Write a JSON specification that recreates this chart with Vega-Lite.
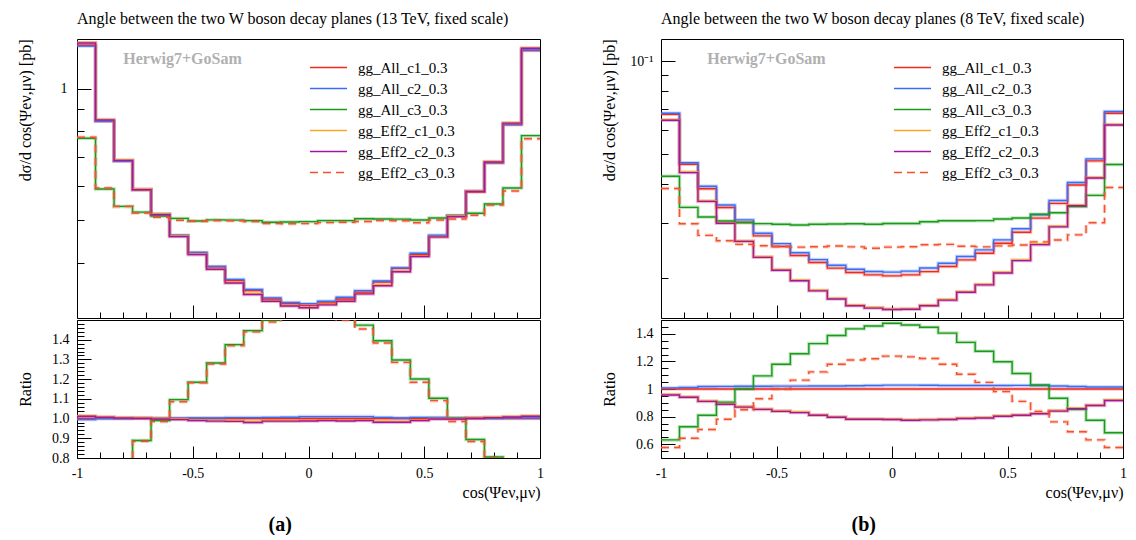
{
"$schema":"https://vega.github.io/schema/vega-lite/v6.json",
"padding":{"left":16,"top":10,"right":5,"bottom":0},
"datasets":{
"a":[
{"s":"gg_All_c1_0.3","x":-1,"y":1.26,"r":1},{"s":"gg_All_c1_0.3","x":-0.92,"y":0.843,"r":1},{"s":"gg_All_c1_0.3","x":-0.84,"y":0.684,"r":1},{"s":"gg_All_c1_0.3","x":-0.76,"y":0.587,"r":1},{"s":"gg_All_c1_0.3","x":-0.68,"y":0.516,"r":1},{"s":"gg_All_c1_0.3","x":-0.6,"y":0.461,"r":1},{"s":"gg_All_c1_0.3","x":-0.52,"y":0.421,"r":1},{"s":"gg_All_c1_0.3","x":-0.44,"y":0.391,"r":1},{"s":"gg_All_c1_0.3","x":-0.36,"y":0.364,"r":1},{"s":"gg_All_c1_0.3","x":-0.28,"y":0.345,"r":1},{"s":"gg_All_c1_0.3","x":-0.2,"y":0.33,"r":1},{"s":"gg_All_c1_0.3","x":-0.12,"y":0.322,"r":1},{"s":"gg_All_c1_0.3","x":-0.04,"y":0.319,"r":1},{"s":"gg_All_c1_0.3","x":0.04,"y":0.323,"r":1},{"s":"gg_All_c1_0.3","x":0.12,"y":0.33,"r":1},{"s":"gg_All_c1_0.3","x":0.2,"y":0.342,"r":1},{"s":"gg_All_c1_0.3","x":0.28,"y":0.361,"r":1},{"s":"gg_All_c1_0.3","x":0.36,"y":0.388,"r":1},{"s":"gg_All_c1_0.3","x":0.44,"y":0.417,"r":1},{"s":"gg_All_c1_0.3","x":0.52,"y":0.459,"r":1},{"s":"gg_All_c1_0.3","x":0.6,"y":0.511,"r":1},{"s":"gg_All_c1_0.3","x":0.68,"y":0.581,"r":1},{"s":"gg_All_c1_0.3","x":0.76,"y":0.677,"r":1},{"s":"gg_All_c1_0.3","x":0.84,"y":0.828,"r":1},{"s":"gg_All_c1_0.3","x":0.92,"y":1.225,"r":1},{"s":"gg_All_c1_0.3","x":1,"y":1.225,"r":1},
{"s":"gg_All_c2_0.3","x":-1,"y":1.254,"r":0.995},{"s":"gg_All_c2_0.3","x":-0.92,"y":0.843,"r":1.0},{"s":"gg_All_c2_0.3","x":-0.84,"y":0.684,"r":1.0},{"s":"gg_All_c2_0.3","x":-0.76,"y":0.588,"r":1.002},{"s":"gg_All_c2_0.3","x":-0.68,"y":0.517,"r":1.002},{"s":"gg_All_c2_0.3","x":-0.6,"y":0.462,"r":1.002},{"s":"gg_All_c2_0.3","x":-0.52,"y":0.422,"r":1.003},{"s":"gg_All_c2_0.3","x":-0.44,"y":0.392,"r":1.003},{"s":"gg_All_c2_0.3","x":-0.36,"y":0.366,"r":1.005},{"s":"gg_All_c2_0.3","x":-0.28,"y":0.347,"r":1.005},{"s":"gg_All_c2_0.3","x":-0.2,"y":0.332,"r":1.006},{"s":"gg_All_c2_0.3","x":-0.12,"y":0.324,"r":1.007},{"s":"gg_All_c2_0.3","x":-0.04,"y":0.322,"r":1.01},{"s":"gg_All_c2_0.3","x":0.04,"y":0.326,"r":1.01},{"s":"gg_All_c2_0.3","x":0.12,"y":0.333,"r":1.01},{"s":"gg_All_c2_0.3","x":0.2,"y":0.345,"r":1.01},{"s":"gg_All_c2_0.3","x":0.28,"y":0.363,"r":1.006},{"s":"gg_All_c2_0.3","x":0.36,"y":0.389,"r":1.003},{"s":"gg_All_c2_0.3","x":0.44,"y":0.42,"r":1.006},{"s":"gg_All_c2_0.3","x":0.52,"y":0.462,"r":1.006},{"s":"gg_All_c2_0.3","x":0.6,"y":0.513,"r":1.003},{"s":"gg_All_c2_0.3","x":0.68,"y":0.583,"r":1.003},{"s":"gg_All_c2_0.3","x":0.76,"y":0.678,"r":1.002},{"s":"gg_All_c2_0.3","x":0.84,"y":0.83,"r":1.003},{"s":"gg_All_c2_0.3","x":0.92,"y":1.229,"r":1.003},{"s":"gg_All_c2_0.3","x":1,"y":1.229,"r":1.003},
{"s":"gg_All_c3_0.3","x":-1,"y":0.771,"r":0.612},{"s":"gg_All_c3_0.3","x":-0.92,"y":0.59,"r":0.7},{"s":"gg_All_c3_0.3","x":-0.84,"y":0.538,"r":0.787},{"s":"gg_All_c3_0.3","x":-0.76,"y":0.522,"r":0.889},{"s":"gg_All_c3_0.3","x":-0.68,"y":0.511,"r":0.99},{"s":"gg_All_c3_0.3","x":-0.6,"y":0.505,"r":1.096},{"s":"gg_All_c3_0.3","x":-0.52,"y":0.498,"r":1.184},{"s":"gg_All_c3_0.3","x":-0.44,"y":0.501,"r":1.282},{"s":"gg_All_c3_0.3","x":-0.36,"y":0.5005,"r":1.375},{"s":"gg_All_c3_0.3","x":-0.28,"y":0.499,"r":1.446},{"s":"gg_All_c3_0.3","x":-0.2,"y":0.495,"r":1.5},{"s":"gg_All_c3_0.3","x":-0.12,"y":0.4956,"r":1.539},{"s":"gg_All_c3_0.3","x":-0.04,"y":0.4964,"r":1.556},{"s":"gg_All_c3_0.3","x":0.04,"y":0.499,"r":1.545},{"s":"gg_All_c3_0.3","x":0.12,"y":0.499,"r":1.512},{"s":"gg_All_c3_0.3","x":0.2,"y":0.504,"r":1.474},{"s":"gg_All_c3_0.3","x":0.28,"y":0.5036,"r":1.395},{"s":"gg_All_c3_0.3","x":0.36,"y":0.503,"r":1.297},{"s":"gg_All_c3_0.3","x":0.44,"y":0.5008,"r":1.201},{"s":"gg_All_c3_0.3","x":0.52,"y":0.506,"r":1.103},{"s":"gg_All_c3_0.3","x":0.6,"y":0.512,"r":1.002},{"s":"gg_All_c3_0.3","x":0.68,"y":0.519,"r":0.894},{"s":"gg_All_c3_0.3","x":0.76,"y":0.545,"r":0.805},{"s":"gg_All_c3_0.3","x":0.84,"y":0.593,"r":0.716},{"s":"gg_All_c3_0.3","x":0.92,"y":0.7816,"r":0.638},{"s":"gg_All_c3_0.3","x":1,"y":0.7816,"r":0.638},
{"s":"gg_Eff2_c1_0.3","x":-1,"y":1.278,"r":1.014},{"s":"gg_Eff2_c1_0.3","x":-0.92,"y":0.851,"r":1.01},{"s":"gg_Eff2_c1_0.3","x":-0.84,"y":0.688,"r":1.006},{"s":"gg_Eff2_c1_0.3","x":-0.76,"y":0.59,"r":1.005},{"s":"gg_Eff2_c1_0.3","x":-0.68,"y":0.517,"r":1.002},{"s":"gg_Eff2_c1_0.3","x":-0.6,"y":0.461,"r":0.999},{"s":"gg_Eff2_c1_0.3","x":-0.52,"y":0.418,"r":0.994},{"s":"gg_Eff2_c1_0.3","x":-0.44,"y":0.387,"r":0.991},{"s":"gg_Eff2_c1_0.3","x":-0.36,"y":0.36,"r":0.99},{"s":"gg_Eff2_c1_0.3","x":-0.28,"y":0.34,"r":0.985},{"s":"gg_Eff2_c1_0.3","x":-0.2,"y":0.327,"r":0.99},{"s":"gg_Eff2_c1_0.3","x":-0.12,"y":0.319,"r":0.99},{"s":"gg_Eff2_c1_0.3","x":-0.04,"y":0.316,"r":0.991},{"s":"gg_Eff2_c1_0.3","x":0.04,"y":0.321,"r":0.993},{"s":"gg_Eff2_c1_0.3","x":0.12,"y":0.327,"r":0.991},{"s":"gg_Eff2_c1_0.3","x":0.2,"y":0.34,"r":0.993},{"s":"gg_Eff2_c1_0.3","x":0.28,"y":0.356,"r":0.985},{"s":"gg_Eff2_c1_0.3","x":0.36,"y":0.382,"r":0.985},{"s":"gg_Eff2_c1_0.3","x":0.44,"y":0.414,"r":0.993},{"s":"gg_Eff2_c1_0.3","x":0.52,"y":0.459,"r":1.001},{"s":"gg_Eff2_c1_0.3","x":0.6,"y":0.512,"r":1.001},{"s":"gg_Eff2_c1_0.3","x":0.68,"y":0.584,"r":1.005},{"s":"gg_Eff2_c1_0.3","x":0.76,"y":0.682,"r":1.008},{"s":"gg_Eff2_c1_0.3","x":0.84,"y":0.837,"r":1.011},{"s":"gg_Eff2_c1_0.3","x":0.92,"y":1.242,"r":1.014},{"s":"gg_Eff2_c1_0.3","x":1,"y":1.242,"r":1.014},
{"s":"gg_Eff2_c2_0.3","x":-1,"y":1.275,"r":1.012},{"s":"gg_Eff2_c2_0.3","x":-0.92,"y":0.849,"r":1.007},{"s":"gg_Eff2_c2_0.3","x":-0.84,"y":0.686,"r":1.003},{"s":"gg_Eff2_c2_0.3","x":-0.76,"y":0.588,"r":1.002},{"s":"gg_Eff2_c2_0.3","x":-0.68,"y":0.515,"r":0.998},{"s":"gg_Eff2_c2_0.3","x":-0.6,"y":0.459,"r":0.995},{"s":"gg_Eff2_c2_0.3","x":-0.52,"y":0.417,"r":0.99},{"s":"gg_Eff2_c2_0.3","x":-0.44,"y":0.386,"r":0.987},{"s":"gg_Eff2_c2_0.3","x":-0.36,"y":0.359,"r":0.986},{"s":"gg_Eff2_c2_0.3","x":-0.28,"y":0.338,"r":0.98},{"s":"gg_Eff2_c2_0.3","x":-0.2,"y":0.326,"r":0.987},{"s":"gg_Eff2_c2_0.3","x":-0.12,"y":0.318,"r":0.987},{"s":"gg_Eff2_c2_0.3","x":-0.04,"y":0.315,"r":0.988},{"s":"gg_Eff2_c2_0.3","x":0.04,"y":0.32,"r":0.99},{"s":"gg_Eff2_c2_0.3","x":0.12,"y":0.326,"r":0.988},{"s":"gg_Eff2_c2_0.3","x":0.2,"y":0.339,"r":0.99},{"s":"gg_Eff2_c2_0.3","x":0.28,"y":0.354,"r":0.981},{"s":"gg_Eff2_c2_0.3","x":0.36,"y":0.381,"r":0.981},{"s":"gg_Eff2_c2_0.3","x":0.44,"y":0.413,"r":0.99},{"s":"gg_Eff2_c2_0.3","x":0.52,"y":0.458,"r":0.998},{"s":"gg_Eff2_c2_0.3","x":0.6,"y":0.51,"r":0.998},{"s":"gg_Eff2_c2_0.3","x":0.68,"y":0.582,"r":1.002},{"s":"gg_Eff2_c2_0.3","x":0.76,"y":0.68,"r":1.005},{"s":"gg_Eff2_c2_0.3","x":0.84,"y":0.835,"r":1.008},{"s":"gg_Eff2_c2_0.3","x":0.92,"y":1.24,"r":1.012},{"s":"gg_Eff2_c2_0.3","x":1,"y":1.24,"r":1.012},
{"s":"gg_Eff2_c3_0.3","x":-1,"y":0.775,"r":0.615},{"s":"gg_Eff2_c3_0.3","x":-0.92,"y":0.593,"r":0.703},{"s":"gg_Eff2_c3_0.3","x":-0.84,"y":0.538,"r":0.787},{"s":"gg_Eff2_c3_0.3","x":-0.76,"y":0.5195,"r":0.885},{"s":"gg_Eff2_c3_0.3","x":-0.68,"y":0.508,"r":0.985},{"s":"gg_Eff2_c3_0.3","x":-0.6,"y":0.5,"r":1.085},{"s":"gg_Eff2_c3_0.3","x":-0.52,"y":0.4976,"r":1.182},{"s":"gg_Eff2_c3_0.3","x":-0.44,"y":0.4993,"r":1.277},{"s":"gg_Eff2_c3_0.3","x":-0.36,"y":0.4987,"r":1.37},{"s":"gg_Eff2_c3_0.3","x":-0.28,"y":0.4968,"r":1.44},{"s":"gg_Eff2_c3_0.3","x":-0.2,"y":0.4917,"r":1.49},{"s":"gg_Eff2_c3_0.3","x":-0.12,"y":0.491,"r":1.525},{"s":"gg_Eff2_c3_0.3","x":-0.04,"y":0.4913,"r":1.54},{"s":"gg_Eff2_c3_0.3","x":0.04,"y":0.494,"r":1.53},{"s":"gg_Eff2_c3_0.3","x":0.12,"y":0.495,"r":1.5},{"s":"gg_Eff2_c3_0.3","x":0.2,"y":0.497,"r":1.454},{"s":"gg_Eff2_c3_0.3","x":0.28,"y":0.4993,"r":1.383},{"s":"gg_Eff2_c3_0.3","x":0.36,"y":0.4986,"r":1.285},{"s":"gg_Eff2_c3_0.3","x":0.44,"y":0.4937,"r":1.184},{"s":"gg_Eff2_c3_0.3","x":0.52,"y":0.5008,"r":1.091},{"s":"gg_Eff2_c3_0.3","x":0.6,"y":0.5033,"r":0.985},{"s":"gg_Eff2_c3_0.3","x":0.68,"y":0.5136,"r":0.884},{"s":"gg_Eff2_c3_0.3","x":0.76,"y":0.5416,"r":0.8},{"s":"gg_Eff2_c3_0.3","x":0.84,"y":0.5837,"r":0.705},{"s":"gg_Eff2_c3_0.3","x":0.92,"y":0.769,"r":0.628},{"s":"gg_Eff2_c3_0.3","x":1,"y":0.769,"r":0.628}
],
"b":[
{"s":"gg_All_c1_0.3","x":-1,"y":0.0673,"r":1},{"s":"gg_All_c1_0.3","x":-0.92,"y":0.0464,"r":1},{"s":"gg_All_c1_0.3","x":-0.84,"y":0.0387,"r":1},{"s":"gg_All_c1_0.3","x":-0.76,"y":0.03365,"r":1},{"s":"gg_All_c1_0.3","x":-0.68,"y":0.0301,"r":1},{"s":"gg_All_c1_0.3","x":-0.6,"y":0.02726,"r":1},{"s":"gg_All_c1_0.3","x":-0.52,"y":0.02519,"r":1},{"s":"gg_All_c1_0.3","x":-0.44,"y":0.02355,"r":1},{"s":"gg_All_c1_0.3","x":-0.36,"y":0.02236,"r":1},{"s":"gg_All_c1_0.3","x":-0.28,"y":0.02144,"r":1},{"s":"gg_All_c1_0.3","x":-0.2,"y":0.02076,"r":1},{"s":"gg_All_c1_0.3","x":-0.12,"y":0.0204,"r":1},{"s":"gg_All_c1_0.3","x":-0.04,"y":0.02025,"r":1},{"s":"gg_All_c1_0.3","x":0.04,"y":0.0204,"r":1},{"s":"gg_All_c1_0.3","x":0.12,"y":0.0209,"r":1},{"s":"gg_All_c1_0.3","x":0.2,"y":0.0217,"r":1},{"s":"gg_All_c1_0.3","x":0.28,"y":0.0228,"r":1},{"s":"gg_All_c1_0.3","x":0.36,"y":0.02396,"r":1},{"s":"gg_All_c1_0.3","x":0.44,"y":0.0258,"r":1},{"s":"gg_All_c1_0.3","x":0.52,"y":0.028,"r":1},{"s":"gg_All_c1_0.3","x":0.6,"y":0.0311,"r":1},{"s":"gg_All_c1_0.3","x":0.68,"y":0.0347,"r":1},{"s":"gg_All_c1_0.3","x":0.76,"y":0.0398,"r":1},{"s":"gg_All_c1_0.3","x":0.84,"y":0.0476,"r":1},{"s":"gg_All_c1_0.3","x":0.92,"y":0.0678,"r":1},{"s":"gg_All_c1_0.3","x":1,"y":0.0678,"r":1},
{"s":"gg_All_c2_0.3","x":-1,"y":0.06784,"r":1.008},{"s":"gg_All_c2_0.3","x":-0.92,"y":0.04696,"r":1.012},{"s":"gg_All_c2_0.3","x":-0.84,"y":0.0394,"r":1.018},{"s":"gg_All_c2_0.3","x":-0.76,"y":0.03429,"r":1.019},{"s":"gg_All_c2_0.3","x":-0.68,"y":0.0307,"r":1.02},{"s":"gg_All_c2_0.3","x":-0.6,"y":0.0278,"r":1.02},{"s":"gg_All_c2_0.3","x":-0.52,"y":0.02572,"r":1.021},{"s":"gg_All_c2_0.3","x":-0.44,"y":0.02404,"r":1.021},{"s":"gg_All_c2_0.3","x":-0.36,"y":0.02285,"r":1.022},{"s":"gg_All_c2_0.3","x":-0.28,"y":0.02191,"r":1.022},{"s":"gg_All_c2_0.3","x":-0.2,"y":0.02126,"r":1.024},{"s":"gg_All_c2_0.3","x":-0.12,"y":0.02091,"r":1.025},{"s":"gg_All_c2_0.3","x":-0.04,"y":0.02082,"r":1.028},{"s":"gg_All_c2_0.3","x":0.04,"y":0.02097,"r":1.028},{"s":"gg_All_c2_0.3","x":0.12,"y":0.02146,"r":1.027},{"s":"gg_All_c2_0.3","x":0.2,"y":0.02224,"r":1.025},{"s":"gg_All_c2_0.3","x":0.28,"y":0.02337,"r":1.025},{"s":"gg_All_c2_0.3","x":0.36,"y":0.02456,"r":1.025},{"s":"gg_All_c2_0.3","x":0.44,"y":0.02645,"r":1.025},{"s":"gg_All_c2_0.3","x":0.52,"y":0.02873,"r":1.026},{"s":"gg_All_c2_0.3","x":0.6,"y":0.03188,"r":1.025},{"s":"gg_All_c2_0.3","x":0.68,"y":0.03546,"r":1.022},{"s":"gg_All_c2_0.3","x":0.76,"y":0.04052,"r":1.018},{"s":"gg_All_c2_0.3","x":0.84,"y":0.04831,"r":1.015},{"s":"gg_All_c2_0.3","x":0.92,"y":0.06875,"r":1.014},{"s":"gg_All_c2_0.3","x":1,"y":0.06875,"r":1.014},
{"s":"gg_All_c3_0.3","x":-1,"y":0.04247,"r":0.631},{"s":"gg_All_c3_0.3","x":-0.92,"y":0.03369,"r":0.726},{"s":"gg_All_c3_0.3","x":-0.84,"y":0.03135,"r":0.81},{"s":"gg_All_c3_0.3","x":-0.76,"y":0.03045,"r":0.905},{"s":"gg_All_c3_0.3","x":-0.68,"y":0.0301,"r":1.0},{"s":"gg_All_c3_0.3","x":-0.6,"y":0.02985,"r":1.095},{"s":"gg_All_c3_0.3","x":-0.52,"y":0.0297,"r":1.179},{"s":"gg_All_c3_0.3","x":-0.44,"y":0.02956,"r":1.255},{"s":"gg_All_c3_0.3","x":-0.36,"y":0.02972,"r":1.329},{"s":"gg_All_c3_0.3","x":-0.28,"y":0.02976,"r":1.388},{"s":"gg_All_c3_0.3","x":-0.2,"y":0.02981,"r":1.436},{"s":"gg_All_c3_0.3","x":-0.12,"y":0.02972,"r":1.457},{"s":"gg_All_c3_0.3","x":-0.04,"y":0.02989,"r":1.476},{"s":"gg_All_c3_0.3","x":0.04,"y":0.02987,"r":1.464},{"s":"gg_All_c3_0.3","x":0.12,"y":0.03026,"r":1.448},{"s":"gg_All_c3_0.3","x":0.2,"y":0.03049,"r":1.405},{"s":"gg_All_c3_0.3","x":0.28,"y":0.03051,"r":1.338},{"s":"gg_All_c3_0.3","x":0.36,"y":0.03052,"r":1.274},{"s":"gg_All_c3_0.3","x":0.44,"y":0.03091,"r":1.198},{"s":"gg_All_c3_0.3","x":0.52,"y":0.03114,"r":1.112},{"s":"gg_All_c3_0.3","x":0.6,"y":0.032,"r":1.029},{"s":"gg_All_c3_0.3","x":0.68,"y":0.03238,"r":0.933},{"s":"gg_All_c3_0.3","x":0.76,"y":0.03391,"r":0.852},{"s":"gg_All_c3_0.3","x":0.84,"y":0.03684,"r":0.774},{"s":"gg_All_c3_0.3","x":0.92,"y":0.04631,"r":0.683},{"s":"gg_All_c3_0.3","x":1,"y":0.04631,"r":0.683},
{"s":"gg_Eff2_c1_0.3","x":-1,"y":0.06468,"r":0.961},{"s":"gg_Eff2_c1_0.3","x":-0.92,"y":0.0438,"r":0.944},{"s":"gg_Eff2_c1_0.3","x":-0.84,"y":0.03537,"r":0.914},{"s":"gg_Eff2_c1_0.3","x":-0.76,"y":0.03008,"r":0.894},{"s":"gg_Eff2_c1_0.3","x":-0.68,"y":0.02628,"r":0.873},{"s":"gg_Eff2_c1_0.3","x":-0.6,"y":0.02334,"r":0.856},{"s":"gg_Eff2_c1_0.3","x":-0.52,"y":0.02121,"r":0.842},{"s":"gg_Eff2_c1_0.3","x":-0.44,"y":0.01962,"r":0.833},{"s":"gg_Eff2_c1_0.3","x":-0.36,"y":0.0182,"r":0.814},{"s":"gg_Eff2_c1_0.3","x":-0.28,"y":0.01713,"r":0.799},{"s":"gg_Eff2_c1_0.3","x":-0.2,"y":0.0163,"r":0.785},{"s":"gg_Eff2_c1_0.3","x":-0.12,"y":0.01601,"r":0.785},{"s":"gg_Eff2_c1_0.3","x":-0.04,"y":0.01586,"r":0.783},{"s":"gg_Eff2_c1_0.3","x":0.04,"y":0.01587,"r":0.778},{"s":"gg_Eff2_c1_0.3","x":0.12,"y":0.0163,"r":0.78},{"s":"gg_Eff2_c1_0.3","x":0.2,"y":0.01699,"r":0.783},{"s":"gg_Eff2_c1_0.3","x":0.28,"y":0.01801,"r":0.79},{"s":"gg_Eff2_c1_0.3","x":0.36,"y":0.01902,"r":0.794},{"s":"gg_Eff2_c1_0.3","x":0.44,"y":0.0208,"r":0.806},{"s":"gg_Eff2_c1_0.3","x":0.52,"y":0.02279,"r":0.814},{"s":"gg_Eff2_c1_0.3","x":0.6,"y":0.02566,"r":0.825},{"s":"gg_Eff2_c1_0.3","x":0.68,"y":0.02929,"r":0.844},{"s":"gg_Eff2_c1_0.3","x":0.76,"y":0.03427,"r":0.861},{"s":"gg_Eff2_c1_0.3","x":0.84,"y":0.04208,"r":0.884},{"s":"gg_Eff2_c1_0.3","x":0.92,"y":0.06244,"r":0.921},{"s":"gg_Eff2_c1_0.3","x":1,"y":0.06244,"r":0.921},
{"s":"gg_Eff2_c2_0.3","x":-1,"y":0.0644,"r":0.957},{"s":"gg_Eff2_c2_0.3","x":-0.92,"y":0.04362,"r":0.94},{"s":"gg_Eff2_c2_0.3","x":-0.84,"y":0.03522,"r":0.91},{"s":"gg_Eff2_c2_0.3","x":-0.76,"y":0.02995,"r":0.89},{"s":"gg_Eff2_c2_0.3","x":-0.68,"y":0.02616,"r":0.869},{"s":"gg_Eff2_c2_0.3","x":-0.6,"y":0.02323,"r":0.852},{"s":"gg_Eff2_c2_0.3","x":-0.52,"y":0.02111,"r":0.838},{"s":"gg_Eff2_c2_0.3","x":-0.44,"y":0.01952,"r":0.829},{"s":"gg_Eff2_c2_0.3","x":-0.36,"y":0.01811,"r":0.81},{"s":"gg_Eff2_c2_0.3","x":-0.28,"y":0.01704,"r":0.795},{"s":"gg_Eff2_c2_0.3","x":-0.2,"y":0.01621,"r":0.781},{"s":"gg_Eff2_c2_0.3","x":-0.12,"y":0.01593,"r":0.781},{"s":"gg_Eff2_c2_0.3","x":-0.04,"y":0.01577,"r":0.779},{"s":"gg_Eff2_c2_0.3","x":0.04,"y":0.01579,"r":0.774},{"s":"gg_Eff2_c2_0.3","x":0.12,"y":0.01622,"r":0.776},{"s":"gg_Eff2_c2_0.3","x":0.2,"y":0.0169,"r":0.779},{"s":"gg_Eff2_c2_0.3","x":0.28,"y":0.01792,"r":0.786},{"s":"gg_Eff2_c2_0.3","x":0.36,"y":0.01893,"r":0.79},{"s":"gg_Eff2_c2_0.3","x":0.44,"y":0.02069,"r":0.802},{"s":"gg_Eff2_c2_0.3","x":0.52,"y":0.02268,"r":0.81},{"s":"gg_Eff2_c2_0.3","x":0.6,"y":0.02553,"r":0.821},{"s":"gg_Eff2_c2_0.3","x":0.68,"y":0.02915,"r":0.84},{"s":"gg_Eff2_c2_0.3","x":0.76,"y":0.03411,"r":0.857},{"s":"gg_Eff2_c2_0.3","x":0.84,"y":0.04189,"r":0.88},{"s":"gg_Eff2_c2_0.3","x":0.92,"y":0.06217,"r":0.917},{"s":"gg_Eff2_c2_0.3","x":1,"y":0.06217,"r":0.917},
{"s":"gg_Eff2_c3_0.3","x":-1,"y":0.03876,"r":0.576},{"s":"gg_Eff2_c3_0.3","x":-0.92,"y":0.02984,"r":0.643},{"s":"gg_Eff2_c3_0.3","x":-0.84,"y":0.02736,"r":0.707},{"s":"gg_Eff2_c3_0.3","x":-0.76,"y":0.02628,"r":0.781},{"s":"gg_Eff2_c3_0.3","x":-0.68,"y":0.02559,"r":0.85},{"s":"gg_Eff2_c3_0.3","x":-0.6,"y":0.02532,"r":0.929},{"s":"gg_Eff2_c3_0.3","x":-0.52,"y":0.02519,"r":1.0},{"s":"gg_Eff2_c3_0.3","x":-0.44,"y":0.02506,"r":1.064},{"s":"gg_Eff2_c3_0.3","x":-0.36,"y":0.02513,"r":1.124},{"s":"gg_Eff2_c3_0.3","x":-0.28,"y":0.02528,"r":1.179},{"s":"gg_Eff2_c3_0.3","x":-0.2,"y":0.02512,"r":1.21},{"s":"gg_Eff2_c3_0.3","x":-0.12,"y":0.02487,"r":1.219},{"s":"gg_Eff2_c3_0.3","x":-0.04,"y":0.02507,"r":1.238},{"s":"gg_Eff2_c3_0.3","x":0.04,"y":0.02515,"r":1.233},{"s":"gg_Eff2_c3_0.3","x":0.12,"y":0.02552,"r":1.221},{"s":"gg_Eff2_c3_0.3","x":0.2,"y":0.02558,"r":1.179},{"s":"gg_Eff2_c3_0.3","x":0.28,"y":0.02524,"r":1.107},{"s":"gg_Eff2_c3_0.3","x":0.36,"y":0.02511,"r":1.048},{"s":"gg_Eff2_c3_0.3","x":0.44,"y":0.02531,"r":0.981},{"s":"gg_Eff2_c3_0.3","x":0.52,"y":0.02548,"r":0.91},{"s":"gg_Eff2_c3_0.3","x":0.6,"y":0.02606,"r":0.838},{"s":"gg_Eff2_c3_0.3","x":0.68,"y":0.02644,"r":0.762},{"s":"gg_Eff2_c3_0.3","x":0.76,"y":0.02746,"r":0.69},{"s":"gg_Eff2_c3_0.3","x":0.84,"y":0.03004,"r":0.631},{"s":"gg_Eff2_c3_0.3","x":0.92,"y":0.03905,"r":0.576},{"s":"gg_Eff2_c3_0.3","x":1,"y":0.03905,"r":0.576}
]
},
"hconcat":[
{"vconcat":[
 {"width":463,"height":279,
  "title":{"text":"Angle between the two W boson decay planes (13 TeV, fixed scale)","anchor":"start","frame":"group","fontSize":16,"fontWeight":"normal","offset":12},
  "data":{"name":"a"},
  "layer":[
   {"mark":{"type":"line","interpolate":"step-after","strokeWidth":3.5,"opacity":0.28,"clip":true},
    "encoding":{
     "x":{"field":"x","type":"quantitative","scale":{"domain":[-1,1],"nice":false,"zero":false},"axis":null},
     "y":{"field":"y","type":"quantitative","scale":{"type":"log","domain":[0.2985,1.302],"nice":false},"axis":{"orient":"left","values":[1],"labelExpr":"'1'","ticks":false,"labelPadding":10,"title":"dσ/d cos(Ψeν,μν) [pb]","titleAnchor":"end","titlePadding":4,"minExtent":40,"maxExtent":40}},
     "color":{"field":"s","type":"nominal","scale":{"domain":["gg_All_c1_0.3","gg_All_c2_0.3","gg_All_c3_0.3","gg_Eff2_c1_0.3","gg_Eff2_c2_0.3","gg_Eff2_c3_0.3"],"range":["#ee2a1e","#3a6cf4","#199a1a","#f9a825","#a3179e","#f4512c"]}},
     "strokeDash":{"field":"s","type":"nominal","scale":{"domain":["gg_All_c1_0.3","gg_All_c2_0.3","gg_All_c3_0.3","gg_Eff2_c1_0.3","gg_Eff2_c2_0.3","gg_Eff2_c3_0.3"],"range":[[1,0],[1,0],[1,0],[1,0],[1,0],[8,5]]}}}},
   {"mark":{"type":"line","interpolate":"step-after","strokeWidth":1.4,"clip":true},
    "encoding":{
     "x":{"field":"x","type":"quantitative","axis":{"orient":"top","offset":-279,"labels":false,"title":null,"values":[-1,-0.9,-0.8,-0.7,-0.6,-0.5,-0.4,-0.3,-0.2,-0.1,0,0.1,0.2,0.3,0.4,0.5,0.6,0.7,0.8,0.9,1],"tickSize":{"condition":{"test":"abs(datum.value*2-round(datum.value*2))<0.001","value":13},"value":6}}},
     "y":{"field":"y","type":"quantitative","axis":{"orient":"right","offset":-463,"labels":false,"title":null,"values":[0.4,0.5,0.6,0.7,0.8,0.9,1],"tickSize":{"condition":{"test":"datum.value>0.95","value":14},"value":7}}},
     "color":{"field":"s","type":"nominal","legend":{"orient":"none","legendX":244,"legendY":21,"title":null,"symbolType":"M-4,0H4","symbolSize":86,"symbolStrokeWidth":1.6,"symbolOpacity":1,"labelFontSize":15,"labelOffset":22,"rowPadding":5,"padding":0,"labelColor":"black"}},
     "strokeDash":{"field":"s","type":"nominal","legend":{"orient":"none","legendX":244,"legendY":21,"title":null,"symbolType":"M-4,0H4","symbolSize":86,"symbolStrokeWidth":1.6,"symbolOpacity":1,"labelFontSize":15,"labelOffset":22,"rowPadding":5,"padding":0,"labelColor":"black"}}}},
   {"data":{"values":[{"t":"Herwig7+GoSam","x":-0.8,"y":1.172}]},
    "mark":{"type":"text","align":"left","baseline":"middle","fontSize":16,"fontWeight":"bold","color":"#b0b0b0"},
    "encoding":{"x":{"field":"x","type":"quantitative","axis":null},"y":{"field":"y","type":"quantitative","axis":null},"text":{"field":"t"}}}
  ],
  "resolve":{"axis":{"x":"independent","y":"independent"}}},
 {"width":463,"height":138,
  "data":{"name":"a"},
  "layer":[
   {"mark":{"type":"line","interpolate":"step-after","strokeWidth":3.5,"opacity":0.28,"clip":true},
    "encoding":{
     "x":{"field":"x","type":"quantitative","scale":{"domain":[-1,1],"nice":false,"zero":false},"axis":{"orient":"bottom","values":[-1,-0.5,0,0.5,1],"format":"~g","labelExpr":"replace(datum.label,'−','-')","ticks":false,"labelPadding":8,"labelFlush":false,"title":"cos(Ψeν,μν)","titleAnchor":"end","titlePadding":4}},
     "y":{"field":"r","type":"quantitative","scale":{"domain":[0.8,1.5],"nice":false,"zero":false},"axis":{"orient":"left","values":[0.8,0.9,1,1.1,1.2,1.3,1.4],"format":".1f","ticks":false,"labelPadding":8,"title":"Ratio","titlePadding":4,"minExtent":40,"maxExtent":40}},
     "color":{"field":"s","type":"nominal","scale":{"domain":["gg_All_c1_0.3","gg_All_c2_0.3","gg_All_c3_0.3","gg_Eff2_c1_0.3","gg_Eff2_c2_0.3","gg_Eff2_c3_0.3"],"range":["#ee2a1e","#3a6cf4","#199a1a","#f9a825","#a3179e","#f4512c"]},"legend":null},
     "strokeDash":{"field":"s","type":"nominal","scale":{"domain":["gg_All_c1_0.3","gg_All_c2_0.3","gg_All_c3_0.3","gg_Eff2_c1_0.3","gg_Eff2_c2_0.3","gg_Eff2_c3_0.3"],"range":[[1,0],[1,0],[1,0],[1,0],[1,0],[8,5]]},"legend":null}}},
   {"mark":{"type":"line","interpolate":"step-after","strokeWidth":1.4,"clip":true},
    "encoding":{
     "x":{"field":"x","type":"quantitative","axis":{"orient":"top","offset":-138,"labels":false,"title":null,"values":[-1,-0.9,-0.8,-0.7,-0.6,-0.5,-0.4,-0.3,-0.2,-0.1,0,0.1,0.2,0.3,0.4,0.5,0.6,0.7,0.8,0.9,1],"tickSize":{"condition":{"test":"abs(datum.value*2-round(datum.value*2))<0.001","value":12},"value":6}}},
     "y":{"field":"r","type":"quantitative","axis":{"orient":"right","offset":-463,"labels":false,"title":null,"values":[0.8,0.82,0.84,0.86,0.88,0.9,0.92,0.94,0.96,0.98,1,1.02,1.04,1.06,1.08,1.1,1.12,1.14,1.16,1.18,1.2,1.22,1.24,1.26,1.28,1.3,1.32,1.34,1.36,1.38,1.4,1.42,1.44,1.46,1.48,1.5],"tickSize":{"condition":{"test":"abs(datum.value*10-round(datum.value*10))<0.001","value":14},"value":7}}},
     "color":{"field":"s","type":"nominal","legend":null},
     "strokeDash":{"field":"s","type":"nominal","legend":null}}}
  ],
  "resolve":{"axis":{"x":"independent","y":"independent"}}}
 ],
 "spacing":0,
 "title":{"text":"(a)","orient":"bottom","anchor":"middle","frame":"bounds","fontSize":20,"fontWeight":"bold","offset":14},
 "resolve":{"scale":{"y":"independent","color":"independent","strokeDash":"independent"}}},
{"vconcat":[
 {"width":462,"height":279,
  "title":{"text":"Angle between the two W boson decay planes (8 TeV, fixed scale)","anchor":"start","frame":"group","fontSize":16,"fontWeight":"normal","offset":12},
  "data":{"name":"b"},
  "layer":[
   {"mark":{"type":"line","interpolate":"step-after","strokeWidth":3.5,"opacity":0.28,"clip":true},
    "encoding":{
     "x":{"field":"x","type":"quantitative","scale":{"domain":[-1,1],"nice":false,"zero":false},"axis":null},
     "y":{"field":"y","type":"quantitative","scale":{"type":"log","domain":[0.0148,0.1178],"nice":false},"axis":{"orient":"left","values":[0.1],"labelExpr":"'10⁻¹'","ticks":false,"labelPadding":8,"title":"dσ/d cos(Ψeν,μν) [pb]","titleAnchor":"end","titlePadding":4,"minExtent":40,"maxExtent":40}},
     "color":{"field":"s","type":"nominal","scale":{"domain":["gg_All_c1_0.3","gg_All_c2_0.3","gg_All_c3_0.3","gg_Eff2_c1_0.3","gg_Eff2_c2_0.3","gg_Eff2_c3_0.3"],"range":["#ee2a1e","#3a6cf4","#199a1a","#f9a825","#a3179e","#f4512c"]}},
     "strokeDash":{"field":"s","type":"nominal","scale":{"domain":["gg_All_c1_0.3","gg_All_c2_0.3","gg_All_c3_0.3","gg_Eff2_c1_0.3","gg_Eff2_c2_0.3","gg_Eff2_c3_0.3"],"range":[[1,0],[1,0],[1,0],[1,0],[1,0],[8,5]]}}}},
   {"mark":{"type":"line","interpolate":"step-after","strokeWidth":1.4,"clip":true},
    "encoding":{
     "x":{"field":"x","type":"quantitative","axis":{"orient":"top","offset":-279,"labels":false,"title":null,"values":[-1,-0.9,-0.8,-0.7,-0.6,-0.5,-0.4,-0.3,-0.2,-0.1,0,0.1,0.2,0.3,0.4,0.5,0.6,0.7,0.8,0.9,1],"tickSize":{"condition":{"test":"abs(datum.value*2-round(datum.value*2))<0.001","value":13},"value":6}}},
     "y":{"field":"y","type":"quantitative","axis":{"orient":"right","offset":-462,"labels":false,"title":null,"values":[0.02,0.03,0.04,0.05,0.06,0.07,0.08,0.09,0.1],"tickSize":{"condition":{"test":"datum.value>0.095","value":14},"value":7}}},
     "color":{"field":"s","type":"nominal","legend":{"orient":"none","legendX":244,"legendY":21,"title":null,"symbolType":"M-4,0H4","symbolSize":86,"symbolStrokeWidth":1.6,"symbolOpacity":1,"labelFontSize":15,"labelOffset":22,"rowPadding":5,"padding":0,"labelColor":"black"}},
     "strokeDash":{"field":"s","type":"nominal","legend":{"orient":"none","legendX":244,"legendY":21,"title":null,"symbolType":"M-4,0H4","symbolSize":86,"symbolStrokeWidth":1.6,"symbolOpacity":1,"labelFontSize":15,"labelOffset":22,"rowPadding":5,"padding":0,"labelColor":"black"}}}},
   {"data":{"values":[{"t":"Herwig7+GoSam","x":-0.8,"y":0.1015}]},
    "mark":{"type":"text","align":"left","baseline":"middle","fontSize":16,"fontWeight":"bold","color":"#b0b0b0"},
    "encoding":{"x":{"field":"x","type":"quantitative","axis":null},"y":{"field":"y","type":"quantitative","axis":null},"text":{"field":"t"}}}
  ],
  "resolve":{"axis":{"x":"independent","y":"independent"}}},
 {"width":462,"height":138,
  "data":{"name":"b"},
  "layer":[
   {"mark":{"type":"line","interpolate":"step-after","strokeWidth":3.5,"opacity":0.28,"clip":true},
    "encoding":{
     "x":{"field":"x","type":"quantitative","scale":{"domain":[-1,1],"nice":false,"zero":false},"axis":{"orient":"bottom","values":[-1,-0.5,0,0.5,1],"format":"~g","labelExpr":"replace(datum.label,'−','-')","ticks":false,"labelPadding":8,"labelFlush":false,"title":"cos(Ψeν,μν)","titleAnchor":"end","titlePadding":4}},
     "y":{"field":"r","type":"quantitative","scale":{"domain":[0.5,1.5],"nice":false,"zero":false},"axis":{"orient":"left","values":[0.6,0.8,1,1.2,1.4],"format":"~g","ticks":false,"labelPadding":8,"title":"Ratio","titlePadding":4,"minExtent":40,"maxExtent":40}},
     "color":{"field":"s","type":"nominal","scale":{"domain":["gg_All_c1_0.3","gg_All_c2_0.3","gg_All_c3_0.3","gg_Eff2_c1_0.3","gg_Eff2_c2_0.3","gg_Eff2_c3_0.3"],"range":["#ee2a1e","#3a6cf4","#199a1a","#f9a825","#a3179e","#f4512c"]},"legend":null},
     "strokeDash":{"field":"s","type":"nominal","scale":{"domain":["gg_All_c1_0.3","gg_All_c2_0.3","gg_All_c3_0.3","gg_Eff2_c1_0.3","gg_Eff2_c2_0.3","gg_Eff2_c3_0.3"],"range":[[1,0],[1,0],[1,0],[1,0],[1,0],[8,5]]},"legend":null}}},
   {"mark":{"type":"line","interpolate":"step-after","strokeWidth":1.4,"clip":true},
    "encoding":{
     "x":{"field":"x","type":"quantitative","axis":{"orient":"top","offset":-138,"labels":false,"title":null,"values":[-1,-0.9,-0.8,-0.7,-0.6,-0.5,-0.4,-0.3,-0.2,-0.1,0,0.1,0.2,0.3,0.4,0.5,0.6,0.7,0.8,0.9,1],"tickSize":{"condition":{"test":"abs(datum.value*2-round(datum.value*2))<0.001","value":12},"value":6}}},
     "y":{"field":"r","type":"quantitative","axis":{"orient":"right","offset":-462,"labels":false,"title":null,"values":[0.5,0.55,0.6,0.65,0.7,0.75,0.8,0.85,0.9,0.95,1,1.05,1.1,1.15,1.2,1.25,1.3,1.35,1.4,1.45,1.5],"tickSize":{"condition":{"test":"abs(datum.value*5-round(datum.value*5))<0.001","value":14},"value":7}}},
     "color":{"field":"s","type":"nominal","legend":null},
     "strokeDash":{"field":"s","type":"nominal","legend":null}}}
  ],
  "resolve":{"axis":{"x":"independent","y":"independent"}}}
 ],
 "spacing":0,
 "title":{"text":"(b)","orient":"bottom","anchor":"middle","frame":"bounds","fontSize":20,"fontWeight":"bold","offset":14},
 "resolve":{"scale":{"y":"independent","color":"independent","strokeDash":"independent"}}}
],
"spacing":56,
"resolve":{"scale":{"x":"independent","y":"independent","color":"independent","strokeDash":"independent"}},
"config":{
 "font":"Liberation Serif",
 "view":{"stroke":"black","strokeWidth":1},
 "axis":{"labelFont":"Liberation Serif","titleFont":"Liberation Serif","labelFontSize":14,"titleFontSize":16,"titleFontWeight":"normal","labelColor":"black","titleColor":"black","tickColor":"black","tickWidth":1,"domain":false,"grid":false},
 "legend":{"labelFont":"Liberation Serif","symbolOpacity":1},
 "title":{"font":"Liberation Serif","color":"black"},
 "text":{"font":"Liberation Serif"}
}
}
